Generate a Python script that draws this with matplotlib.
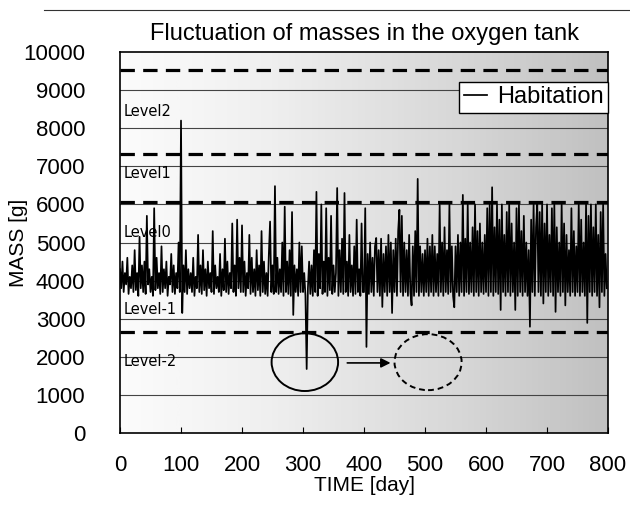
import numpy as np
import matplotlib
matplotlib.use("Agg")
import matplotlib.pyplot as plt
from matplotlib.patches import Ellipse
from matplotlib.lines import Line2D

plt.rcParams['font.family'] = ['Liberation Sans', 'DejaVu Sans']

# ---- data ----
seg_000 = [4300, 3800, 4500, 3700, 4200, 3900, 4600, 3650, 4100, 3800,
           4400, 3700, 4800, 3750, 4200, 3600, 5150, 3800, 4400, 3700,
           4500, 3650, 5700, 3900, 4300, 3700, 4100, 3600, 5900, 3750,
           4600, 3800, 4200, 3650, 4900, 3700, 4300, 3800, 4500, 3600,
           4100, 3900, 4700, 3700, 4400, 3650, 4200, 3800, 5000, 3700]
seg_100 = [8200, 3150, 4400, 3700, 4800, 3650, 4300, 3800, 4200, 3700,
           4600, 3600, 4100, 3800, 5200, 3700, 4400, 3650, 4800, 3750,
           4300, 3600, 4500, 3800, 4200, 3700, 5300, 3650, 4400, 3800,
           4100, 3700, 4700, 3600, 4300, 3750, 5100, 3700, 4500, 3650,
           4200, 3800, 5500, 3700, 4400, 3600, 5600, 3800, 4600, 3700]
seg_200 = [5450, 3700, 4500, 3600, 4200, 3800, 5200, 3650, 4600, 3700,
           4300, 3600, 4800, 3750, 4400, 3600, 5300, 3700, 4500, 3650,
           4200, 3600, 4700, 5550, 3700, 4400, 3650, 6480, 3700, 4600,
           3650, 4300, 3700, 5000, 3600, 5940, 3700, 4500, 3650, 4800,
           3600, 5800, 3100, 4400, 3700, 4300, 3600, 5000, 3700, 4900]
seg_300 = [3700, 4200, 3600, 1680, 3800, 4500, 3650, 4400, 3600, 4800,
           3700, 6330, 3600, 4700, 3800, 6000, 3650, 4500, 3700, 5900,
           3600, 4600, 3750, 5700, 3650, 4400, 3700, 4200, 6430, 3600,
           4800, 3700, 5100, 3650, 6300, 3700, 4500, 3600, 5200, 3700,
           4400, 3600, 4900, 3650, 5600, 3700, 4300, 3600, 5500, 3700]
seg_400 = [3700, 5900, 2260, 4700, 3650, 5000, 3700, 4600, 3600, 4900,
           5120, 3700, 4800, 3600, 5100, 3310, 4700, 3700, 4900, 3600,
           5200, 3700, 5000, 3150, 4800, 3700, 5100, 3600, 5300, 5860,
           3700, 5700, 3600, 5000, 3700, 4800, 3600, 5200, 3700, 3350,
           4900, 3600, 5300, 3700, 6670, 3600, 4900, 3700, 4700, 3600]
seg_500 = [4800, 3700, 5100, 3600, 4900, 3700, 5200, 3600, 4900, 3700,
           4700, 3600, 5990, 3700, 5000, 3600, 5400, 3700, 4800, 3650,
           6000, 3700, 4900, 3600, 3300, 4900, 3700, 5200, 3600, 5000,
           3700, 6250, 3600, 5100, 3700, 6000, 3650, 5000, 3700, 5400,
           3600, 6000, 3700, 5300, 3600, 5500, 3700, 5000, 3650, 5200]
seg_600 = [3700, 5900, 3600, 6000, 3700, 6450, 3600, 5400, 3700, 6000,
           3650, 5600, 3230, 6000, 3700, 5200, 3600, 5800, 3700, 6000,
           3600, 5500, 3700, 5000, 3230, 5900, 3600, 6000, 3700, 5300,
           3600, 5700, 3700, 5000, 3600, 4800, 2790, 5600, 3700, 6000,
           3600, 5400, 6000, 3700, 5800, 3600, 6000, 3400, 5500, 3700]
seg_700 = [6000, 3600, 5200, 3700, 5900, 3600, 6000, 3180, 5400, 3700,
           5000, 3600, 6000, 3700, 5500, 3350, 5200, 3700, 4800, 3600,
           5900, 3700, 5300, 3600, 4900, 3700, 6000, 3600, 5600, 3700,
           5000, 3600, 6000, 2890, 5700, 3700, 6000, 3600, 5400, 3700,
           6000, 3600, 5200, 3300, 5800, 3700, 6000, 3600, 4700, 3800]

mass = seg_000 + seg_100 + seg_200 + seg_300 + seg_400 + seg_500 + seg_600 + seg_700
days = np.arange(0, 2 * len(mass), 2)

level_bounds = [9530, 7320, 6060, 2650]
level_names = ["Level2", "Level1", "Level0", "Level-1", "Level-2"]
level_label_y = [8430, 6800, 5270, 3240, 1870]

x_ticks = [0, 100, 200, 300, 400, 500, 600, 700, 800]
y_ticks = [0, 1000, 2000, 3000, 4000, 5000, 6000, 7000, 8000, 9000, 10000]

# ---- figure ----
fig = plt.figure(figsize=(6.3, 5.08), dpi=100)
ax = fig.add_axes([0.1905, 0.1476, 0.7746, 0.75])

# scanned-look gray background gradient
grad = np.linspace(0.03, 0.36, 256).reshape(1, -1)
ax.imshow(grad, cmap='Greys', vmin=0, vmax=1, aspect='auto',
          extent=[0, 1, 0, 1], transform=ax.transAxes, zorder=0)

for yv in y_ticks[1:-1]:
    ax.axhline(yv, color='#444444', lw=0.8, zorder=1)

for yb in level_bounds:
    ax.axhline(yb, color='black', lw=2.3, linestyle=(0, (4.5, 2.6)), zorder=2)

ax.plot(days, mass, color='black', lw=1.25, zorder=3, label='Habitation')

for name, yv in zip(level_names, level_label_y):
    ax.text(6, yv, name, fontsize=10.5, family='DejaVu Sans', ha='left', va='center', zorder=4)

ax.add_patch(Ellipse((303, 1860), 109, 1515, fill=False, ec='black', lw=1.4, zorder=4))
ax.add_patch(Ellipse((505, 1860), 110, 1470, fill=False, ec='black', lw=1.4,
                     linestyle=(0, (3, 2)), zorder=4))
ax.annotate('', xy=(448, 1840), xytext=(368, 1840),
            arrowprops=dict(arrowstyle='-|>', color='black', lw=1.2, mutation_scale=14),
            zorder=4)

ax.set_xlim(0, 800)
ax.set_ylim(0, 10000)
ax.set_xticks(x_ticks)
ax.set_yticks(y_ticks)
ax.tick_params(axis='x', direction='in', length=4, pad=16, labelsize=16)
ax.tick_params(axis='y', direction='in', length=0, pad=25, labelsize=16)
for s in ax.spines.values():
    s.set_linewidth(1.2)

ax.set_title('Fluctuation of masses in the oxygen tank', fontsize=17, pad=9)
ax.set_xlabel('TIME [day]', fontsize=15, labelpad=0)
ax.set_ylabel('MASS [g]', fontsize=15)
ax.yaxis.set_label_coords(-0.189, 0.5)

leg = ax.legend(loc='upper right', bbox_to_anchor=(1.0, 0.922), fontsize=17,
                handlelength=1.0, handletextpad=0.4, borderpad=0.2,
                frameon=True, fancybox=False, framealpha=1, edgecolor='black',
                borderaxespad=0.0)
leg.get_frame().set_linewidth(1.0)

fig.add_artist(Line2D([0.07, 1.0], [0.98, 0.98], transform=fig.transFigure,
                      color='#333333', lw=0.8))

fig.savefig('out.png', dpi=100)
